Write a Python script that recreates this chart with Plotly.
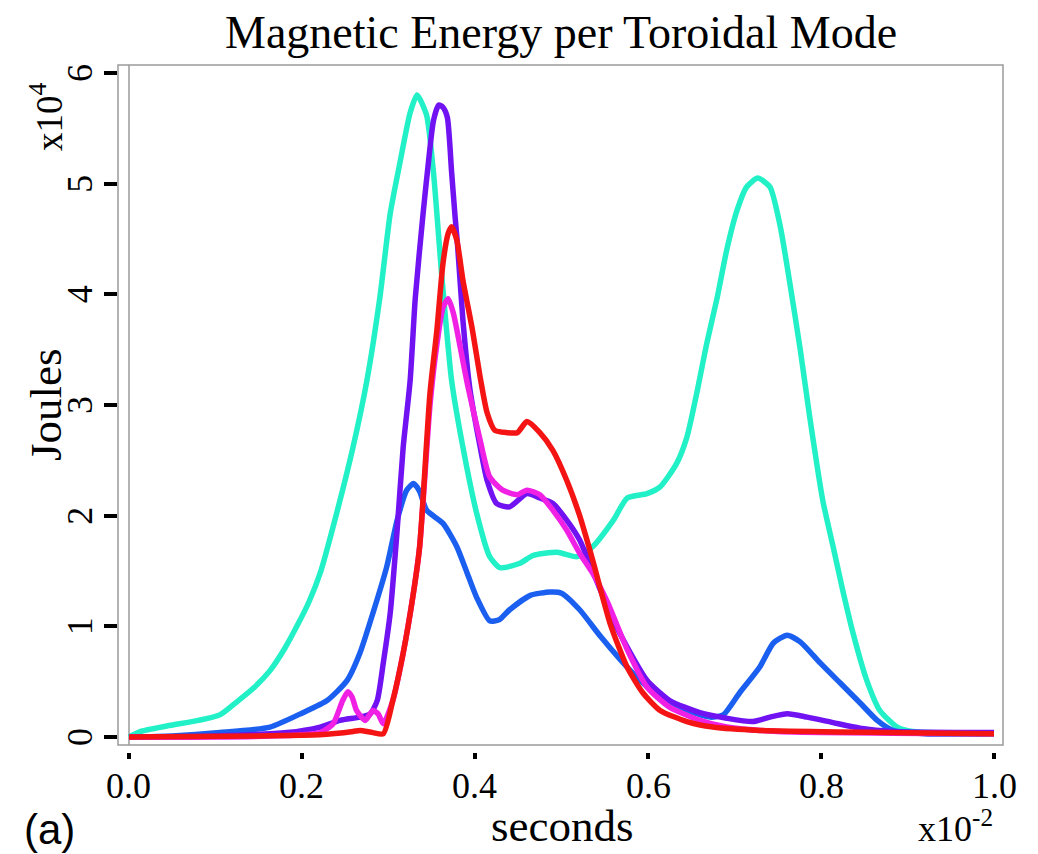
import plotly.graph_objects as go

# ---------------- data (seconds x10^-2, Joules x10^4) ----------------
cyan_x = [0.0, 0.013, 0.044, 0.08, 0.105, 0.125, 0.145, 0.163, 0.18, 0.194, 0.208, 0.221, 0.240, 0.259,
          0.275, 0.290, 0.302, 0.313, 0.325, 0.333, 0.344, 0.352, 0.362, 0.373, 0.386, 0.402, 0.417,
          0.429, 0.452, 0.467, 0.495, 0.518, 0.536, 0.560, 0.576, 0.599, 0.614, 0.633, 0.645, 0.657,
          0.668, 0.680, 0.691, 0.703, 0.714, 0.727, 0.741, 0.753, 0.764, 0.776, 0.787, 0.802, 0.814,
          0.825, 0.837, 0.853, 0.868, 0.888, 0.906, 1.0]
cyan_y = [0.0, 0.05, 0.10, 0.15, 0.20, 0.32, 0.45, 0.60, 0.80, 1.00, 1.22, 1.48, 2.02, 2.62,
          3.22, 3.97, 4.73, 5.18, 5.64, 5.80, 5.62, 5.10, 4.13, 3.22, 2.62, 2.02, 1.63,
          1.53, 1.57, 1.64, 1.67, 1.63, 1.72, 1.96, 2.16, 2.20, 2.26, 2.47, 2.71, 3.13,
          3.56, 3.97, 4.40, 4.76, 4.97, 5.05, 4.97, 4.61, 4.10, 3.50, 2.89, 2.14, 1.72,
          1.33, 0.94, 0.51, 0.24, 0.09, 0.05, 0.03]

blue_x = [0.0, 0.05, 0.105, 0.163, 0.201, 0.229, 0.252, 0.267, 0.282, 0.298, 0.310, 0.321, 0.329,
          0.336, 0.344, 0.363, 0.379, 0.391, 0.402, 0.417, 0.428, 0.44, 0.464, 0.487, 0.50, 0.521,
          0.545, 0.568, 0.591, 0.614, 0.645, 0.672, 0.687, 0.706, 0.729, 0.745, 0.761, 0.776, 0.799,
          0.822, 0.845, 0.865, 0.883, 0.92, 1.0]
blue_y = [0.0, 0.01, 0.04, 0.09, 0.22, 0.33, 0.51, 0.76, 1.12, 1.54, 1.96, 2.23, 2.29,
          2.22, 2.05, 1.93, 1.72, 1.48, 1.26, 1.05, 1.06, 1.15, 1.28, 1.31, 1.30, 1.15,
          0.91, 0.70, 0.51, 0.36, 0.24, 0.18, 0.20, 0.40, 0.63, 0.85, 0.92, 0.86, 0.67,
          0.49, 0.31, 0.15, 0.06, 0.03, 0.03]

violet_x = [0.0, 0.1, 0.183, 0.221, 0.244, 0.267, 0.279, 0.287, 0.294, 0.302, 0.310, 0.317, 0.325,
            0.331, 0.340, 0.346, 0.352, 0.358, 0.363, 0.368, 0.373, 0.377, 0.380, 0.386, 0.394, 0.406,
            0.414, 0.425, 0.440, 0.460, 0.475, 0.490, 0.506, 0.521, 0.536, 0.556, 0.576, 0.599, 0.625,
            0.660, 0.691, 0.721, 0.741, 0.761, 0.784, 0.814, 0.845, 0.883, 1.0]
violet_y = [0.0, 0.01, 0.04, 0.09, 0.15, 0.18, 0.21, 0.33, 0.67, 1.12, 1.87, 2.62, 3.22,
            3.97, 4.73, 5.18, 5.57, 5.71, 5.69, 5.60, 5.10, 4.70, 4.43, 3.77, 3.15, 2.62,
            2.32, 2.11, 2.08, 2.20, 2.16, 2.11, 1.96, 1.78, 1.50, 1.12, 0.81, 0.51, 0.33,
            0.22, 0.17, 0.14, 0.18, 0.21, 0.18, 0.13, 0.08, 0.05, 0.04]

magenta_x = [0.0, 0.1, 0.2, 0.221, 0.236, 0.247, 0.253, 0.258, 0.263, 0.273, 0.282, 0.288, 0.294,
             0.305, 0.317, 0.328, 0.336, 0.348, 0.356, 0.363, 0.369, 0.375, 0.383, 0.392, 0.406,
             0.417, 0.432, 0.449, 0.460, 0.475, 0.490, 0.506, 0.521, 0.536, 0.553, 0.576, 0.599,
             0.625, 0.660, 0.691, 0.75, 1.0]
magenta_y = [0.0, 0.0, 0.02, 0.04, 0.12, 0.33, 0.41, 0.36, 0.24, 0.15, 0.24, 0.21, 0.12,
             0.33, 0.76, 1.26, 1.72, 3.00, 3.55, 3.88, 3.96, 3.83, 3.52, 3.16, 2.68,
             2.35, 2.23, 2.19, 2.23, 2.19, 2.05, 1.87, 1.66, 1.48, 1.22, 0.79, 0.45,
             0.27, 0.15, 0.09, 0.05, 0.03]

red_x = [0.0, 0.15, 0.22, 0.259, 0.267, 0.282, 0.294, 0.305, 0.317, 0.328, 0.336, 0.348, 0.356,
         0.363, 0.369, 0.373, 0.379, 0.386, 0.397, 0.406, 0.414, 0.423, 0.437, 0.449, 0.460, 0.475,
         0.490, 0.506, 0.521, 0.536, 0.556, 0.576, 0.594, 0.614, 0.645, 0.675, 0.729, 1.0]
red_y = [0.0, 0.01, 0.02, 0.05, 0.06, 0.04, 0.03, 0.33, 0.76, 1.26, 1.72, 3.11, 3.68,
         4.28, 4.55, 4.61, 4.49, 4.13, 3.68, 3.25, 2.93, 2.77, 2.75, 2.75, 2.85, 2.75,
         2.59, 2.32, 2.00, 1.60, 1.03, 0.63, 0.40, 0.24, 0.14, 0.09, 0.06, 0.03]

x_ticks = [0.0, 0.2, 0.4, 0.6, 0.8, 1.0]
x_tick_text = ["0.0", "0.2", "0.4", "0.6", "0.8", "1.0"]
y_ticks = [0, 1, 2, 3, 4, 5, 6]
y_tick_text = ["0", "1", "2", "3", "4", "5", "6"]

series = [
    (cyan_x, cyan_y, "#22F0C6"),
    (blue_x, blue_y, "#1B5FF0"),
    (violet_x, violet_y, "#7012F2"),
    (magenta_x, magenta_y, "#F020E4"),
    (red_x, red_y, "#F41414"),
]

# ---------------- layout geometry ----------------
W, H = 1038, 854
ML, MR, MT, MB = 117, 35, 65, 102
PW = W - ML - MR
PH = H - MT - MB


def fx(px):
    return (px - ML) / PW


def fy(py):
    return (H - MB - py) / PH


SERIF = "Liberation Serif"

fig = go.Figure()
for xs, ys, col in series:
    fig.add_trace(go.Scatter(x=xs, y=ys, mode="lines",
                             line=dict(color=col, width=5.5, shape="spline", smoothing=0.6),
                             showlegend=False, hoverinfo="skip"))

fig.update_layout(
    width=W, height=H,
    margin=dict(l=ML, r=MR, t=MT, b=MB, pad=0),
    paper_bgcolor="white", plot_bgcolor="white",
    font=dict(family=SERIF, color="black"),
    xaxis=dict(domain=[fx(118), 1], range=[-0.0127, 1.0104], anchor="free", position=0,
               showgrid=False, zeroline=False, showline=False,
               tickmode="array", tickvals=x_ticks, ticktext=x_tick_text, showticklabels=False,
               ticks="outside", ticklen=6, tickwidth=4, tickcolor="black"),
    yaxis=dict(domain=[fy(745), 1], range=[-0.072, 6.072], anchor="free", position=0,
               showgrid=False, zeroline=False, showline=False,
               tickmode="array", tickvals=y_ticks, ticktext=y_tick_text, showticklabels=False,
               ticks="outside", ticklen=13, tickwidth=4, tickcolor="black"),
)

# x tick labels
for v, t in zip(x_ticks, x_tick_text):
    fig.add_annotation(text=t, x=v, y=fy(786), xref="x", yref="paper",
                       xanchor="center", yanchor="middle", showarrow=False,
                       font=dict(family=SERIF, size=36, color="black"))

# y tick labels, rotated like the reference (parallel to the axis)
for v, t in zip(y_ticks, y_tick_text):
    fig.add_annotation(text=t, x=fx(80), y=v, xref="paper", yref="y",
                       xanchor="center", yanchor="middle", showarrow=False, textangle=-90,
                       font=dict(family=SERIF, size=36, color="black"))

# plot box and x=0 line
fig.add_shape(type="rect", xref="x domain", yref="y domain", x0=0, x1=1, y0=0, y1=1,
              line=dict(color="#9a9a9a", width=1.5), layer="above")
fig.add_shape(type="line", xref="x", yref="y domain", x0=0, x1=0, y0=0, y1=1,
              line=dict(color="#9a9a9a", width=1.5), layer="below")

ann = [
    dict(text="Magnetic Energy per Toroidal Mode", x=fx(561), y=fy(32), size=46, family=SERIF, angle=0),
    dict(text="seconds", x=fx(562), y=fy(826), size=45, family=SERIF, angle=0),
    dict(text="Joules", x=fx(46), y=fy(405), size=45, family=SERIF, angle=-90),
    dict(text="x10<sup>4</sup>", x=fx(46), y=fy(117), size=37, family=SERIF, angle=-90),
    dict(text="x10<sup>-2</sup>", x=fx(955), y=fy(826), size=36, family=SERIF, angle=0),
    dict(text="(a)", x=fx(49), y=fy(829), size=42, family="Liberation Sans", angle=0),
]
for a in ann:
    fig.add_annotation(text=a["text"], x=a["x"], y=a["y"], xref="paper", yref="paper",
                       xanchor="center", yanchor="middle", showarrow=False, textangle=a["angle"],
                       font=dict(family=a["family"], size=a["size"], color="black"))

fig.write_html("out.html")
